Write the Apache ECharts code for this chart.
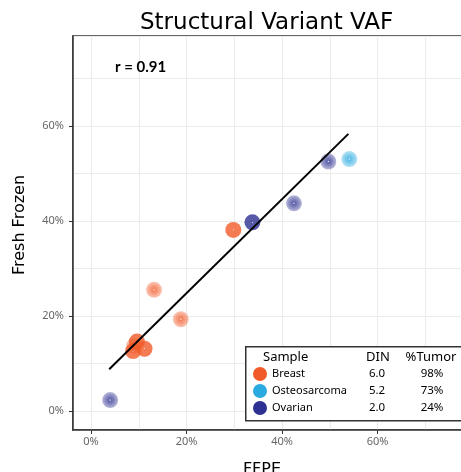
<!DOCTYPE html>
<html>
<head>
<meta charset="utf-8">
<title>Structural Variant VAF</title>
<script src="https://cdn.jsdelivr.net/npm/echarts@6/dist/echarts.min.js"></script>
<style>
  html, body { margin: 0; padding: 0; background: #fff; }
  #chart { width: 461px; height: 472px; }
</style>
</head>
<body>
<div id="chart"></div>
<script>
// sample groups and their legend columns
var categories = ['Breast', 'Osteosarcoma', 'Ovarian'];
var colors = ['#F15A29', '#29ABE2', '#2E3192'];
var dinValues = ['6.0', '5.2', '2.0'];
var tumorValues = ['98%', '73%', '24%'];

// [FFPE %, Fresh Frozen %]
var breastSolid = [[8.8, 12.6], [9.6, 14.6], [11.2, 13.1], [29.8, 38.1]];
var breastFaded = [[9.0, 13.7], [13.2, 25.5], [18.8, 19.3]];
var osteoSolid = [];
var osteoFaded = [[54.1, 53.0]];
var ovarianSolid = [[33.8, 39.7]];
var ovarianFaded = [[4.0, 2.3], [42.5, 43.7], [49.7, 52.5]];

// fitted line end points
var fitLine = [[3.8, 8.8], [53.9, 58.3]];
var tickValues = [0, 20, 40, 60];
var rText = 'r = 0.91';

var xMin = -3.78, xMax = 80;
var yMin = -4, yMax = 78.9;

function rgba(hex, a) {
    var n = parseInt(hex.slice(1), 16);
    return 'rgba(' + (n >> 16) + ',' + ((n >> 8) & 255) + ',' + (n & 255) + ',' + a + ')';
}

function solidStyle(hex) {
    return {color: {type: 'radial', x: 0.5, y: 0.5, r: 0.5, colorStops: [
        {offset: 0, color: '#ffffff'}, {offset: 0.1, color: hex}, {offset: 1, color: hex}]}};
}

function fadedStyle(hex) {
    return {color: {type: 'radial', x: 0.5, y: 0.5, r: 0.5, colorStops: [
        {offset: 0, color: '#ffffff'}, {offset: 0.14, color: rgba(hex, 0.95)},
        {offset: 0.55, color: rgba(hex, 0.72)}, {offset: 1, color: rgba(hex, 0.42)}]}};
}

function buildData(solid, faded, hex) {
    var out = [];
    faded.forEach(function (p) { out.push({value: p, itemStyle: fadedStyle(hex)}); });
    solid.forEach(function (p) { out.push({value: p, itemStyle: solidStyle(hex)}); });
    return out;
}

var groups = [[breastSolid, breastFaded], [osteoSolid, osteoFaded], [ovarianSolid, ovarianFaded]];

var series = categories.map(function (name, i) {
    return {
        name: name,
        type: 'scatter',
        symbolSize: 16,
        itemStyle: {color: colors[i]},
        data: buildData(groups[i][0], groups[i][1], colors[i]),
        z: 2
    };
});

series.push({
    name: 'fit',
    type: 'line',
    data: fitLine,
    symbol: 'none',
    lineStyle: {color: '#000', width: 2},
    z: 3
});

var labelFont = {color: '#666', fontFamily: 'Noto Sans', fontSize: 11};

var option = {
    animation: false,
    backgroundColor: '#fff',
    title: {
        text: 'Structural Variant VAF',
        left: 135,
        top: 7,
        textStyle: {fontFamily: 'DejaVu Sans', fontSize: 23, fontWeight: 'normal', color: '#000'}
    },
    grid: {
        left: 73, width: 400, top: 36, bottom: 42,
        outerBoundsMode: 'none',
        show: true, borderColor: '#333', borderWidth: 1.5, backgroundColor: '#fff'
    },
    xAxis: [{
        type: 'value', min: xMin, max: xMax, splitNumber: 8,
        axisLine: {show: false}, axisTick: {show: false}, axisLabel: {show: false},
        splitLine: {lineStyle: {color: '#ebebeb', width: 1}}
    }, {
        type: 'value', min: xMin, max: xMax, position: 'bottom',
        axisLine: {show: true, onZero: false, lineStyle: {color: '#333', width: 1.5}},
        axisTick: {customValues: tickValues, length: 4, lineStyle: {color: '#333'}},
        axisLabel: Object.assign({customValues: tickValues, formatter: '{value}%', margin: 6}, labelFont),
        splitLine: {show: false},
        name: 'FFPE', nameLocation: 'middle', nameGap: 32,
        nameTextStyle: {fontFamily: 'DejaVu Sans', fontSize: 16, color: '#000', padding: [0, 22, 0, 0]}
    }],
    yAxis: [{
        type: 'value', min: yMin, max: yMax, splitNumber: 8,
        axisLine: {show: false}, axisTick: {show: false}, axisLabel: {show: false},
        splitLine: {lineStyle: {color: '#ebebeb', width: 1}}
    }, {
        type: 'value', min: yMin, max: yMax, position: 'left',
        axisLine: {show: true, onZero: false, lineStyle: {color: '#333', width: 1.5}},
        axisTick: {customValues: tickValues, length: 4, lineStyle: {color: '#333'}},
        axisLabel: Object.assign({customValues: tickValues, formatter: '{value}%', margin: 9}, labelFont),
        splitLine: {show: false},
        name: 'Fresh Frozen', nameLocation: 'middle', nameGap: 45,
        nameTextStyle: {fontFamily: 'DejaVu Sans', fontSize: 16, color: '#000', padding: [0, 0, 0, 16]}
    }],
    legend: {
        orient: 'vertical',
        left: 253, top: 367, padding: 0,
        itemWidth: 14, itemHeight: 14, itemGap: 3,
        icon: 'circle',
        selectedMode: false,
        data: categories.map(function (c, i) {
            return {name: c, itemStyle: {color: colors[i], opacity: 1}};
        }),
        formatter: function (name) {
            var i = categories.indexOf(name);
            return '{n|' + name + '}{d|' + dinValues[i] + '}{t|' + tumorValues[i] + '}';
        },
        textStyle: {
            fontFamily: 'Noto Sans', fontSize: 11, color: '#000',
            rich: {
                n: {width: 90, fontFamily: 'Noto Sans', fontSize: 11},
                d: {width: 30, align: 'center', fontFamily: 'Noto Sans', fontSize: 11.5},
                t: {width: 80, align: 'center', fontFamily: 'Noto Sans', fontSize: 11.5}
            }
        },
        z: 6
    },
    graphic: [
        {type: 'rect', left: 245, top: 346, shape: {width: 240, height: 74},
         style: {fill: '#fff', stroke: '#333', lineWidth: 1.5}, z: 5},
        {type: 'text', x: 263, y: 357, z: 6,
         style: {text: 'Sample', font: '13px "Noto Sans"', fill: '#000', verticalAlign: 'middle'}},
        {type: 'text', x: 378, y: 357, z: 6,
         style: {text: 'DIN', font: '13px "Noto Sans"', fill: '#000', align: 'center', verticalAlign: 'middle'}},
        {type: 'text', x: 431, y: 357, z: 6,
         style: {text: '%Tumor', font: '13px "Noto Sans"', fill: '#000', align: 'center', verticalAlign: 'middle'}},
        {type: 'text', x: 115, y: 67, z: 6,
         style: {text: rText, font: 'bold 15px Lato', fill: '#000', verticalAlign: 'middle'}}
    ],
    series: series
};

var myChart = echarts.init(document.getElementById('chart'));
myChart.setOption(option);
</script>
</body>
</html>
